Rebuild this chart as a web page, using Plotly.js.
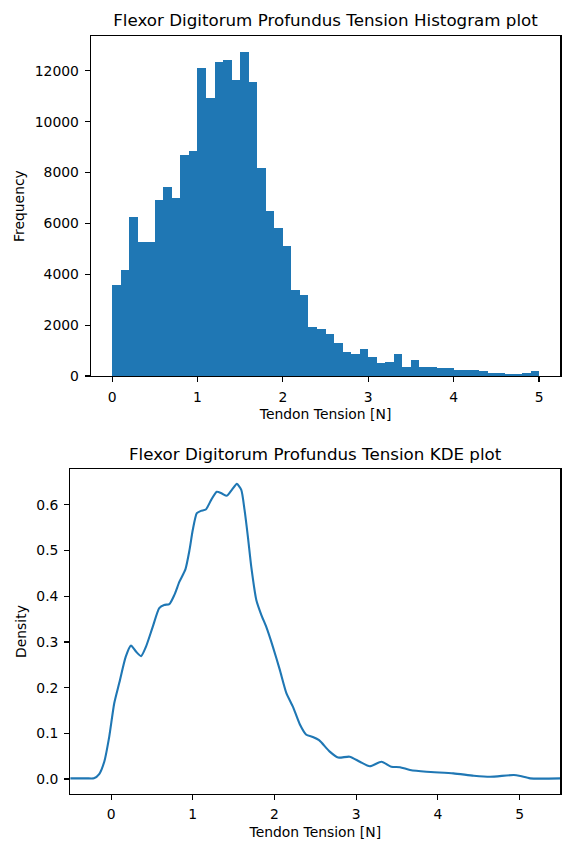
<!DOCTYPE html>
<html><head><meta charset="utf-8">
<script src="https://cdn.plot.ly/plotly-3.0.1.min.js"></script>
<style>html,body{margin:0;padding:0;background:#fff}#chart{width:564px;height:842px}</style>
</head><body><div id="chart"></div>
<script>
// Histogram: 50 bins of width 0.1 from 0 to 5
const binStart = 0;
const binWidth = 0.1;
const histCounts = [3570,4170,6270,5290,5290,6940,7430,7010,8710,8860,
  12110,10940,12360,12430,11640,12730,11560,8180,6510,5830,
  5110,3400,3190,1910,1840,1650,1290,930,880,1060,
  750,510,560,880,370,630,370,370,310,310,
  250,250,250,200,130,130,80,80,130,210];

// KDE curve
const kdeX = [-0.5,-0.3,-0.21,-0.145,-0.083,-0.022,0.039,0.10,0.18,0.244,0.305,0.367,0.428,0.51,0.59,0.65,0.714,0.775,0.837,0.91,0.96,1.0,1.05,1.10,1.16,1.226,1.294,1.356,1.417,1.479,1.54,1.594,1.634,1.675,1.716,1.778,1.84,1.90,1.98,2.064,2.146,2.227,2.31,2.39,2.47,2.546,2.677,2.78,2.92,3.045,3.168,3.31,3.43,3.536,3.66,3.86,4.19,4.44,4.64,4.93,5.01,5.13,5.5];
const kdeY = [0.0015,0.0015,0.0017,0.011,0.038,0.093,0.166,0.21,0.268,0.292,0.279,0.269,0.29,0.333,0.374,0.381,0.383,0.403,0.432,0.459,0.501,0.545,0.582,0.587,0.59,0.611,0.629,0.625,0.62,0.633,0.646,0.633,0.589,0.53,0.465,0.392,0.359,0.333,0.29,0.24,0.188,0.158,0.12,0.097,0.092,0.085,0.06,0.047,0.049,0.038,0.028,0.038,0.027,0.026,0.02,0.016,0.0125,0.0073,0.005,0.0088,0.0066,0.0015,0.0015];

const histTitle = 'Flexor Digitorum Profundus Tension Histogram plot';
const kdeTitle = 'Flexor Digitorum Profundus Tension KDE plot';
const xLabel = 'Tendon Tension [N]';

const binCenters = histCounts.map((_, i) => binStart + binWidth * (i + 0.5));

const W = 564, H = 842;
const FONT = 'DejaVu Sans, sans-serif';
const blue = '#1f77b4';

const axisCommon = {
  showline: true, mirror: true, linecolor: '#000', linewidth: 1.1,
  ticks: 'outside', ticklen: 4.9, tickwidth: 1.1, tickcolor: '#000',
  showgrid: false, zeroline: false,
  tickfont: {family: FONT, size: 13.9, color: '#000'},
  ticklabelstandoff: 3
};

const traces = [
  {type: 'bar', x: binCenters, y: histCounts, width: binWidth,
   marker: {color: blue, line: {width: 0}}, xaxis: 'x', yaxis: 'y', hoverinfo: 'x+y'},
  {type: 'scatter', mode: 'lines', x: kdeX, y: kdeY,
   line: {color: blue, width: 2.1, shape: 'spline', smoothing: 0.6}, xaxis: 'x2', yaxis: 'y2'}
];

const layout = {
  width: W, height: H,
  margin: {l: 0, r: 0, t: 0, b: 0},
  paper_bgcolor: '#fff', plot_bgcolor: '#fff',
  showlegend: false, bargap: 0,
  font: {family: FONT, color: '#000'},
  title: {text: histTitle, font: {family: FONT, size: 16.7, color: '#000'},
          x: (90.7 + 560.4) / 2 / W, xanchor: 'center', y: 1 - 20.5 / H, yanchor: 'middle', yref: 'container'},
  xaxis: Object.assign({}, axisCommon, {
    domain: [90.7 / W, 560.4 / W], anchor: 'y', range: [-0.25, 5.25],
    tickvals: [0, 1, 2, 3, 4, 5],
    title: {text: xLabel, font: {family: FONT, size: 13.9, color: '#000'}, standoff: 5}
  }),
  yaxis: Object.assign({}, axisCommon, {
    domain: [1 - 376 / H, 1 - 36.2 / H], anchor: 'x', range: [0, 13366],
    tickvals: [0, 2000, 4000, 6000, 8000, 10000, 12000], tickformat: 'd',
    title: {text: 'Frequency', font: {family: FONT, size: 13.9, color: '#000'}, standoff: 6}
  }),
  xaxis2: Object.assign({}, axisCommon, {
    domain: [70.2 / W, 560.4 / W], anchor: 'y2', range: [-0.5, 5.5],
    tickvals: [0, 1, 2, 3, 4, 5],
    title: {text: xLabel, font: {family: FONT, size: 13.9, color: '#000'}, standoff: 5}
  }),
  yaxis2: Object.assign({}, axisCommon, {
    domain: [1 - 793.8 / H, 1 - 469.3 / H], anchor: 'x2', range: [-0.0323, 0.678],
    tickvals: [0, 0.1, 0.2, 0.3, 0.4, 0.5, 0.6], tickformat: '.1f',
    title: {text: 'Density', font: {family: FONT, size: 13.9, color: '#000'}, standoff: 6}
  }),
  annotations: [
    {text: kdeTitle, xref: 'paper', yref: 'paper', x: (70.2 + 560.4) / 2 / W, y: 1 - 454.5 / H,
     xanchor: 'center', yanchor: 'middle', showarrow: false,
     font: {family: FONT, size: 16.7, color: '#000'}}
  ]
};

Plotly.newPlot('chart', traces, layout, {displayModeBar: false, staticPlot: true});
</script>
</body></html>
